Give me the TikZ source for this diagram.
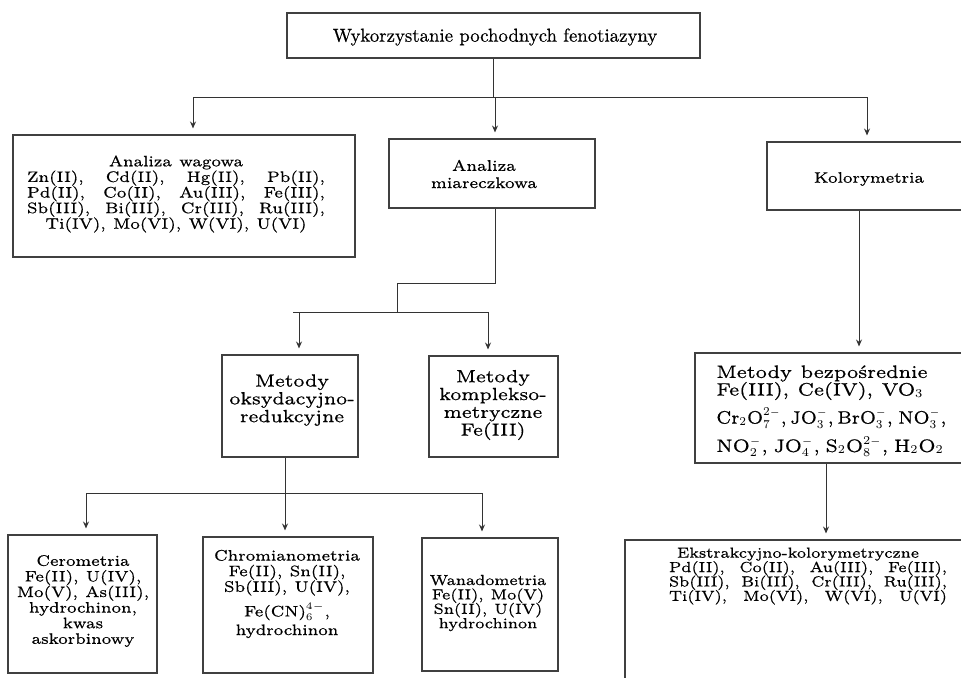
\documentclass[tikz,border=0pt]{standalone}
\usepackage{fontspec}
\usepackage{graphicx}
\setmainfont{lmroman7-regular.otf}[FakeStretch=1.1, WordSpace=1.15, FakeBold=0.6]
\newfontfamily\headfont{lmroman10-regular.otf}[FakeBold=0.5]
\usetikzlibrary{arrows.meta,fit}

% charge written as a small superscript next to a subscript
\newcommand{\chg}[2]{\ensuremath{^{#2}_{#1}}}
\newcommand{\mn}{{\scriptscriptstyle -}}

\tikzset{
  px/.style={x=0.5pt,y=-0.5pt},
  frame/.style={draw=black!75, line width=0.55pt, inner sep=0pt, rectangle},
  txt/.style={align=center, inner sep=0pt, font=\fontsize{7.6pt}{7.8pt}\selectfont},
  txtsmall/.style={txt, font={\fontsize{7.3pt}{7.2pt}\selectfont\lineskiplimit=-1pt}},
  txtbig/.style={txt, font=\fontsize{8.8pt}{8.9pt}\selectfont},
  wire/.style={draw=black!80, line width=0.5pt},
  arr/.style={wire, -{Stealth[length=3.5pt,width=3pt,inset=1.2pt]}, shorten >=3pt},
}

\begin{document}
\begin{tikzpicture}[px]
\useasboundingbox (0,0) rectangle (961,677);
\clip (0,0) rectangle (961,677);

% frames
\node[frame, fit={(287,13) (700,58)}]   (top)   {};
\node[frame, fit={(13,135) (355,257)}]  (wag)   {};
\node[frame, fit={(389,139) (595,208)}] (miar)  {};
\node[frame, fit={(767,142) (973,210)}] (kol)   {};
\node[frame, fit={(222,355) (358,457)}] (oks)   {};
\node[frame, fit={(429,356) (558,457)}] (komp)  {};
\node[frame, fit={(695,353) (965,463)}] (bez)   {};
\node[frame, fit={(8,535) (157,673)}]   (cer)   {};
\node[frame, fit={(203,537) (373,673)}] (chrom) {};
\node[frame, fit={(422,538) (558,671)}] (wan)   {};
\node[frame, fit={(625,540) (990,700)}] (ekstr) {};

% texts
\node[txt, font={\headfont\fontsize{9.4pt}{11pt}\selectfont}] (topT) at (495,37) {Wykorzystanie pochodnych fenotiazyny};
\node[txt] (wagT) at (176,194) {Analiza wagowa\\
  \makebox[149pt][s]{Zn(II), Cd(II), Hg(II), Pb(II),}\\
  \makebox[149pt][s]{Pd(II), Co(II), Au(III), Fe(III),}\\
  \makebox[149pt][s]{Sb(III), Bi(III), Cr(III), Ru(III),}\\
  Ti(IV), Mo(VI), W(VI), U(VI)};
\node[txt, font=\fontsize{7.7pt}{8.6pt}\selectfont] (miarT) at (484,174) {Analiza\\ miareczkowa};
\node[txt] (kolT) at (869,179) {Kolorymetria};
\node[txtbig] (oksT) at (292,400) {Metody\\ oksydacyjno-\\ redukcyjne};
\node[txtbig] (kompT) at (493,405) {Metody\\ komplekso-\\ metryczne\\ Fe(III)};
\node[txt, anchor=west, align=left, font=\fontsize{9pt}{8.8pt}\selectfont] (bezT) at (716,411) {%
  Metody bezpośrednie\\
  Fe(III), Ce(IV), VO$_3$\\[3pt]
  \scalebox{0.92}[1]{Cr$_2$O\chg{7}{2\mn},\hspace{2pt}JO\chg{3}{\mn},\hspace{2pt}BrO\chg{3}{\mn},\hspace{3pt}NO\chg{3}{\mn},}\\[3pt]
  \scalebox{0.98}[1]{NO\chg{2}{\mn},\hspace{3pt}JO\chg{4}{\mn},\hspace{3pt}S$_2$O\chg{8}{2\mn},\hspace{3pt}H$_2$O$_2$}};
\node[txt] (cerT) at (83,601) {Cerometria\\ Fe(II), U(IV),\\ Mo(V), As(III),\\ hydrochinon,\\ kwas\\ askorbinowy};
\node[txt] (chromT) at (287,594) {Chromianometria\\ Fe(II), Sn(II),\\ Sb(III), U(IV),\\[2.5pt] Fe(CN)$_6^{4-}$,\\[1.5pt] hydrochinon};
\node[txtsmall] (wanT) at (488,603) {Wanadometria\\ Fe(II), Mo(V)\\ Sn(II), U(IV)\\ hydrochinon};
\node[txtsmall] (ekstrT) at (808,576) {%
  \makebox[139pt][l]{\hspace*{4pt}Ekstrakcyjno-kolorymetryczne}\\
  \makebox[139pt][s]{Pd(II), Co(II), Au(III), Fe(III),}\\
  \makebox[139pt][s]{Sb(III), Bi(III), Cr(III), Ru(III),}\\
  \makebox[139pt][s]{Ti(IV), Mo(VI), W(VI), U(VI)}};

% first level
\coordinate (b1) at (193,97);
\coordinate (b2) at (495,97);
\coordinate (b3) at (867,97);
\draw[wire] (top.south) -- (top.south |- b1);
\draw[wire] (b1) -- (b3);
\draw[arr] (b1) -- (b1 |- wag.north);
\draw[arr] (b2) -- (b2 |- miar.north);
\draw[arr] (b3) -- (b3 |- kol.north);

% titration branch
\coordinate (m1) at (495,283);
\coordinate (m2) at (397,312);
\coordinate (l1) at (293,312);
\coordinate (l2) at (488,312);
\coordinate (a1) at (299,312);
\draw[wire] (m1 |- miar.south) -- (m1) -| (m2);
\draw[wire] (l1) -- (l2);
\draw[arr] (a1) -- (a1 |- oks.north);
\draw[arr] (l2) -- (l2 |- komp.north);

% redox branch
\coordinate (o1) at (285,493);
\coordinate (r1) at (86,493);
\coordinate (r3) at (482,493);
\draw[wire] (o1 |- oks.south) -- (o1);
\draw[wire] (r1) -- (r3);
\draw[arr] (r1) -- (r1 |- cer.north);
\draw[arr] (o1) -- (o1 |- chrom.north);
\draw[arr] (r3) -- (r3 |- wan.north);

% colorimetry branch
\coordinate (k1) at (859,0);
\coordinate (e1) at (826,0);
\draw[arr] (k1 |- kol.south) -- (k1 |- bez.north);
\draw[arr] (e1 |- bez.south) -- (e1 |- ekstr.north);
\end{tikzpicture}
\end{document}
